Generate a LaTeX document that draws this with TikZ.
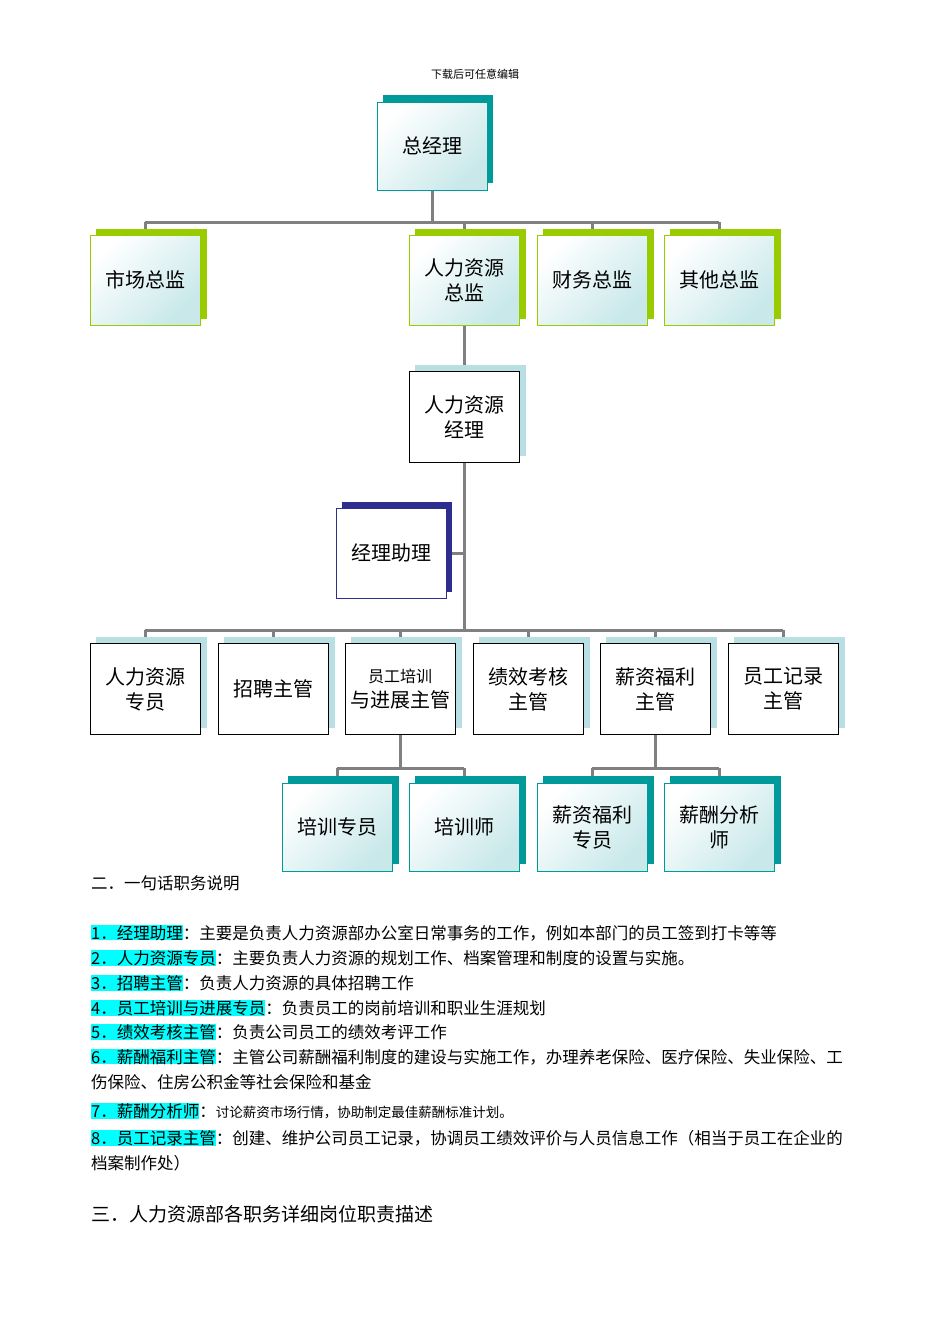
\documentclass[tikz,border=0pt]{standalone}
\usepackage{fontspec}
\setmainfont{Noto Sans CJK SC}
\usetikzlibrary{positioning}
\definecolor{teal1}{HTML}{009A9A}
\definecolor{green1}{HTML}{99CC00}
\definecolor{lblue}{HTML}{B8E0E4}
\definecolor{navy1}{HTML}{2E2E8F}
\definecolor{lcyan}{HTML}{C8E8EA}
\definecolor{hlc}{HTML}{00FFFF}
\definecolor{linec}{HTML}{808080}
\newcommand{\hlx}[1]{{\setlength{\fboxsep}{0pt}\colorbox{hlc}{#1}}}
\tikzset{
  x=1pt,y=-1pt,
  box/.style={draw, minimum width=110pt, minimum height=90pt, inner sep=2pt, align=center, font=\fontsize{20}{25}\selectfont, line width=0.8pt},
  grad/.style={left color=white, right color=lcyan, shading angle=45},
  conn/.style={draw=linec, line width=3pt},
  txt/.style={anchor=west, inner sep=0pt, font=\fontsize{16.5}{19}\selectfont}
}
\begin{document}
\begin{tikzpicture}
\useasboundingbox (0,0) rectangle (950,1344);
\node[font=\fontsize{11}{13}\selectfont] (hdr) at (475,74) {下载后可任意编辑};
% connectors
\coordinate (j1) at (432,222);
\coordinate (h1l) at (145,222); \coordinate (h1r) at (719,222);
\coordinate (j2) at (464,630);
\coordinate (h2l) at (145,630); \coordinate (h2r) at (783,630);
\coordinate (h3l) at (337,768); \coordinate (h3r) at (464,768);
\coordinate (h4l) at (592,768); \coordinate (h4r) at (719,768);
\draw[conn] (432,190) -- (j1);
\draw[conn] (h1l) -- (h1r);
\foreach \x in {145,464,592,719} \draw[conn] (\x,222) -- (\x,236);
\draw[conn] (464,325) -- (464,372);
\draw[conn] (464,462) -- (j2);
\draw[conn] (446,553) -- (464,553);
\draw[conn] (h2l) -- (h2r);
\foreach \x in {145,273,400,528,655,783} \draw[conn] (\x,630) -- (\x,644);
\draw[conn] (400,734) -- (400,768);
\draw[conn] (655,734) -- (655,768);
\draw[conn] (h3l) -- (h3r); \draw[conn] (h4l) -- (h4r);
\foreach \x in {337,464,592,719} \draw[conn] (\x,768) -- (\x,784);
% top
\fill[teal1] (383,95) rectangle (493,183);
\node[box,grad,draw=teal1,minimum height=88pt] (gm) at (432,146) {总经理};
% directors
\foreach \x/\n/\t in {145/d1/市场总监,464/d2/人力资源\\总监,592/d3/财务总监,719/d4/其他总监}{
  \fill[green1] (\x-49,229) rectangle (\x+62,319);
  \node[box,grad,draw=green1] (\n) at (\x,280) {\t};
}
% HR manager
\fill[lblue] (415,365) rectangle (526,456);
\node[box,fill=white,draw=black,minimum height=91pt] (hrm) at (464,417) {人力资源\\经理};
% assistant
\fill[navy1] (342,502) rectangle (452,592);
\node[box,fill=white,draw=navy1] (asst) at (391,553) {经理助理};
% supervisors
\foreach \x/\n/\t in {145/s1/人力资源\\专员,273/s2/招聘主管,400/s3/{\fontsize{16}{22}\selectfont 员工培训\\与进展主管},528/s4/绩效考核\\主管,655/s5/薪资福利\\主管,783/s6/员工记录\\主管}{
  \fill[lblue] (\x-49,637) rectangle (\x+62,728);
  \node[box,fill=white,draw=black,minimum height=91pt] (\n) at (\x,689) {\t};
}
% staff
\foreach \x/\n/\t in {337/t1/培训专员,464/t2/培训师,592/t3/薪资福利\\专员,719/t4/薪酬分析\\师}{
  \fill[teal1] (\x-49,776) rectangle (\x+62,864);
  \node[box,grad,draw=teal1,minimum height=88pt] (\n) at (\x,827) {\t};
}
% text
\node[txt] (l0) at (91,883) {二．一句话职务说明};
\node[txt] (l1) at (91,933) {\hlx{1．经理助理}：主要是负责人力资源部办公室日常事务的工作，例如本部门的员工签到打卡等等};
\node[txt] (l2) at (91,958) {\hlx{2．人力资源专员}：主要负责人力资源的规划工作、档案管理和制度的设置与实施。};
\node[txt] (l3) at (91,983) {\hlx{3．招聘主管}：负责人力资源的具体招聘工作};
\node[txt] (l4) at (91,1008) {\hlx{4．员工培训与进展专员}：负责员工的岗前培训和职业生涯规划};
\node[txt] (l5) at (91,1032) {\hlx{5．绩效考核主管}：负责公司员工的绩效考评工作};
\node[txt] (l6) at (91,1057) {\hlx{6．薪酬福利主管}：主管公司薪酬福利制度的建设与实施工作，办理养老保险、医疗保险、失业保险、工};
\node[txt] (l6b) at (91,1082) {伤保险、住房公积金等社会保险和基金};
\node[txt] (l7) at (91,1111) {\hlx{7．薪酬分析师}：{\fontsize{13.5}{15}\selectfont 讨论薪资市场行情，协助制定最佳薪酬标准计划。}};
\node[txt] (l8) at (91,1138) {\hlx{8．员工记录主管}：创建、维护公司员工记录，协调员工绩效评价与人员信息工作（相当于员工在企业的};
\node[txt] (l8b) at (91,1163) {档案制作处）};
\node[txt,font=\fontsize{19}{23}\selectfont] (l9) at (91,1214) {三．人力资源部各职务详细岗位职责描述};
\end{tikzpicture}
\end{document}
